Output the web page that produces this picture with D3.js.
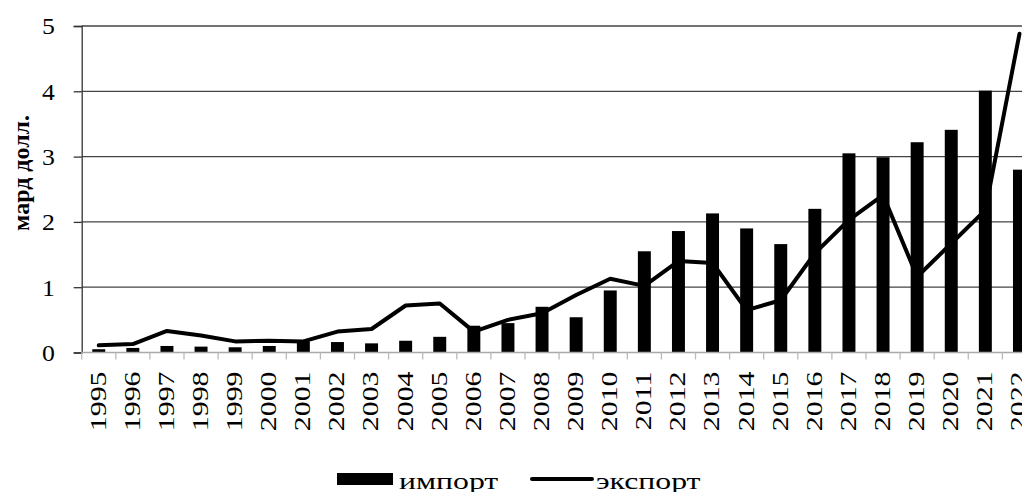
<!DOCTYPE html>
<html>
  <head>
    <meta charset="utf-8">
    <script src="https://d3js.org/d3.v7.min.js"></script>
    <style>
      body { margin: 0; background: #fff; }
      text { font-family: "Liberation Serif", serif; fill: #000; }
    </style>
  </head>
  <body>
    <div id="chart"></div>
    <script>
      // Data
      const years = ["1995", "1996", "1997", "1998", "1999", "2000", "2001", "2002", "2003", "2004",
        "2005", "2006", "2007", "2008", "2009", "2010", "2011", "2012", "2013", "2014",
        "2015", "2016", "2017", "2018", "2019", "2020", "2021", "2022"];
      const importValues = [0.05, 0.07, 0.1, 0.09, 0.08, 0.1, 0.17, 0.16, 0.14, 0.18,
        0.24, 0.41, 0.45, 0.70, 0.54, 0.95, 1.55, 1.86, 2.13, 1.90,
        1.66, 2.20, 3.05, 2.99, 3.22, 3.41, 4.01, 2.80];
      const exportValues = [0.11, 0.13, 0.33, 0.26, 0.17, 0.18, 0.17, 0.32, 0.36, 0.72,
        0.75, 0.32, 0.50, 0.60, 0.88, 1.13, 1.02, 1.40, 1.37, 0.65,
        0.80, 1.52, 2.03, 2.41, 1.16, 1.67, 2.18, 4.88];
      const yTicks = [0, 1, 2, 3, 4, 5];
      const legendLabels = ["импорт", "экспорт"];
      const yTitle = "мард долл.";

      const W = 1022, H = 492;
      const plotLeft = 81.7, step = 34.1;
      const plotBottom = 352.5, plotTop = 26;

      const svg = d3.select("#chart").append("svg")
        .attr("width", W).attr("height", H);

      const x = d3.scaleBand()
        .domain(years)
        .range([plotLeft, plotLeft + step * years.length])
        .paddingInner(0.62)
        .paddingOuter(0.31);
      const cx = (d) => x(d) + x.bandwidth() / 2;

      const y = d3.scaleLinear().domain([0, 5]).range([plotBottom, plotTop]);

      // Gridlines
      svg.append("g")
        .selectAll("line")
        .data(yTicks.filter((d) => d > 0))
        .enter()
        .append("line")
        .attr("x1", plotLeft)
        .attr("x2", W)
        .attr("y1", (d) => y(d))
        .attr("y2", (d) => y(d))
        .attr("stroke", "#444")
        .attr("stroke-width", 1.3);

      // Y axis
      const yAxis = svg.append("g")
        .attr("transform", `translate(${plotLeft},0)`)
        .call(d3.axisLeft(y).tickValues(yTicks).tickFormat(d3.format("d")).tickSize(8).tickPadding(16));
      yAxis.select(".domain").attr("stroke", "#333").attr("stroke-width", 1.3);
      yAxis.selectAll(".tick line").attr("stroke", "#333").attr("stroke-width", 1.3);
      yAxis.selectAll(".tick text")
        .style("font-family", "Liberation Serif")
        .style("font-size", "23px")
        .attr("dy", "0.34em")
        .attr("transform", "scale(1.12,1)");

      // Bars (import)
      svg.append("g")
        .selectAll("rect")
        .data(years)
        .enter()
        .append("rect")
        .attr("x", (d) => x(d))
        .attr("y", (d, i) => y(importValues[i]))
        .attr("width", x.bandwidth())
        .attr("height", (d, i) => y(0) - y(importValues[i]))
        .attr("fill", "#000");

      // X axis line and boundary ticks
      svg.append("line")
        .attr("x1", plotLeft).attr("x2", W)
        .attr("y1", y(0)).attr("y2", y(0))
        .attr("stroke", "#aaa").attr("stroke-width", 1.5);
      svg.append("g")
        .selectAll("line")
        .data(years.concat(["end"]))
        .enter()
        .append("line")
        .attr("x1", (d) => d === "end" ? x.range()[1] : x(d) - x.step() * 0.31)
        .attr("x2", (d) => d === "end" ? x.range()[1] : x(d) - x.step() * 0.31)
        .attr("y1", y(0))
        .attr("y2", y(0) + 7)
        .attr("stroke", "#bbb")
        .attr("stroke-width", 1.3);

      // X labels
      const xAxis = svg.append("g")
        .attr("transform", `translate(0,${y(0)})`)
        .call(d3.axisBottom(x).tickSize(0));
      xAxis.select(".domain").remove();
      xAxis.selectAll(".tick text")
        .style("font-family", "Liberation Serif")
        .style("font-size", "23px")
        .style("text-anchor", "end")
        .attr("transform", "rotate(-90) scale(1.3,1)")
        .attr("x", -19 / 1.3)
        .attr("y", 0)
        .attr("dy", "0.3em");

      // Line (export)
      const line = d3.line()
        .x((d) => cx(d))
        .y((d, i) => y(exportValues[i]));
      svg.append("path")
        .datum(years)
        .attr("d", line)
        .attr("fill", "none")
        .attr("stroke", "#000")
        .attr("stroke-width", 4)
        .attr("stroke-linejoin", "round")
        .attr("stroke-linecap", "round");

      // Y title
      svg.append("text")
        .attr("transform", "translate(29,173) rotate(-90)")
        .style("text-anchor", "middle")
        .style("font-size", "24px")
        .style("font-weight", "bold")
        .text(yTitle);

      // Legend
      const legend = svg.append("g");
      legend.append("rect")
        .attr("x", 337).attr("y", 473)
        .attr("width", 56).attr("height", 12)
        .attr("fill", "#000");
      legend.append("text")
        .attr("transform", "translate(399,489) scale(1.38,1)")
        .style("font-size", "23px")
        .text(legendLabels[0]);
      legend.append("line")
        .attr("x1", 532).attr("x2", 592)
        .attr("y1", 479).attr("y2", 479)
        .attr("stroke", "#000").attr("stroke-width", 4)
        .attr("stroke-linecap", "round");
      legend.append("text")
        .attr("transform", "translate(596,489) scale(1.38,1)")
        .style("font-size", "23px")
        .text(legendLabels[1]);
    </script>
  </body>
</html>
